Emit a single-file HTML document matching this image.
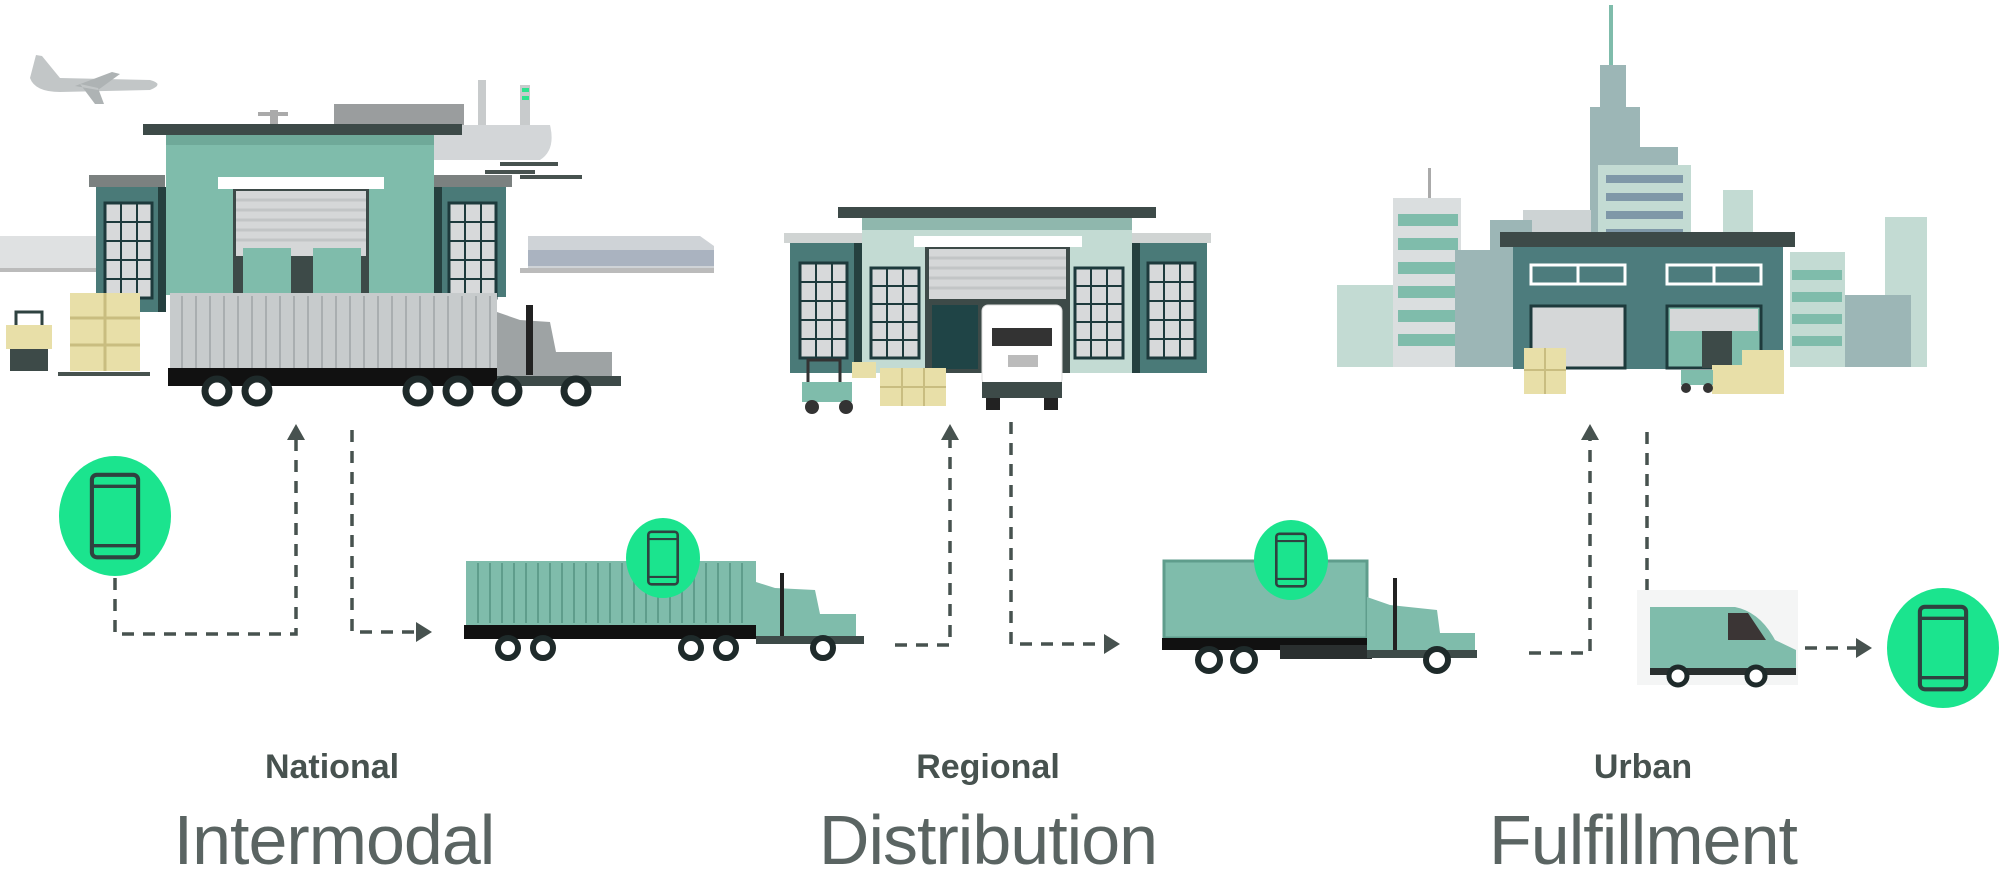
<!DOCTYPE html>
<html><head><meta charset="utf-8"><style>
html,body{margin:0;padding:0;background:#fff;}
body{width:2000px;height:870px;overflow:hidden;}
svg{display:block}
.b{font-family:"Liberation Sans",sans-serif;font-weight:bold;fill:#47524f;font-size:34px;text-anchor:middle}
.t{font-family:"Liberation Sans",sans-serif;fill:#5a6462;font-size:70px;text-anchor:middle;letter-spacing:-1px}
.d{stroke:#47524f;stroke-width:3.5;fill:none;stroke-dasharray:12 9}
</style></head><body>
<svg width="2000" height="870" viewBox="0 0 2000 870" xmlns="http://www.w3.org/2000/svg">
<defs>
<g id="phone"><rect x="-14" y="-25" width="28" height="50" rx="3" fill="none" stroke="#2f4240" stroke-width="2.5"/><line x1="-14" y1="-18" x2="14" y2="-18" stroke="#2f4240" stroke-width="2"/><line x1="-14" y1="18" x2="14" y2="18" stroke="#2f4240" stroke-width="2"/></g>
</defs>

<!-- plane -->
<path d="M30 78 L36 55 L42 56 L60 78 L150 80 Q165 84 150 90 L60 92 Q35 92 30 78Z" fill="#c2c6c7"/>
<path d="M75 86 L112 72 L120 74 L98 90Z M80 84 L95 104 L104 104 L98 88Z" fill="#aeb3b4"/>
<!-- ship -->
<rect x="334" y="104" width="130" height="22" fill="#9a9d9e"/>
<rect x="270" y="110" width="8" height="25" fill="#aaa"/><rect x="258" y="112" width="30" height="4" fill="#aaa"/>
<path d="M434 125 L550 125 Q556 150 540 160 L434 160Z" fill="#d3d6d8"/>
<rect x="478" y="80" width="8" height="45" fill="#c8cbcc"/><rect x="520" y="85" width="10" height="40" fill="#c8cbcc"/>
<rect x="522" y="88" width="7" height="4" fill="#2de38f"/><rect x="522" y="96" width="7" height="4" fill="#2de38f"/>
<rect x="500" y="162" width="58" height="4" fill="#47524f"/><rect x="485" y="170" width="50" height="4" fill="#47524f"/><rect x="520" y="175" width="62" height="4" fill="#47524f"/>
<!-- trains -->
<rect x="0" y="236" width="96" height="36" fill="#dfe1e2"/><rect x="0" y="268" width="96" height="4" fill="#bbb"/>
<path d="M528 236 L700 236 L714 246 L714 270 L528 270Z" fill="#cfd3d7"/><rect x="528" y="250" width="186" height="16" fill="#aab3c0"/>
<rect x="520" y="268" width="194" height="5" fill="#bbb"/>
<!-- wings -->
<rect x="89" y="175" width="76" height="12" fill="#7b8180"/><rect x="434" y="175" width="78" height="12" fill="#7b8180"/>
<rect x="96" y="187" width="70" height="125" fill="#4a7a78"/><rect x="434" y="187" width="72" height="110" fill="#4a7a78"/>
<rect x="158" y="187" width="8" height="125" fill="#25403f"/><rect x="434" y="187" width="8" height="110" fill="#25403f"/>
<g fill="#d7d9da" stroke="#1d3a3c" stroke-width="3">
<rect x="105" y="203" width="47" height="95"/><rect x="449" y="203" width="47" height="95"/>
<rect x="175" y="208" width="47" height="90"/><rect x="378" y="208" width="47" height="90"/>
</g>
<g stroke="#1d3a3c" stroke-width="2"><path d="M121 203V298M137 203V298M105 222H152M105 241H152M105 260H152M105 279H152"/><path d="M465 203V298M481 203V298M449 222H496M449 241H496M449 260H496M449 279H496"/><path d="M191 208V298M207 208V298M175 226H222M175 244H222M175 262H222M175 280H222"/><path d="M394 208V298M410 208V298M378 226H425M378 244H425M378 262H425M378 280H425"/></g>
<!-- main facade -->
<rect x="143" y="124" width="319" height="11" fill="#3d4a48"/>
<rect x="166" y="135" width="268" height="160" fill="#7fbcab"/><rect x="166" y="135" width="268" height="10" fill="#6fa999"/>
<rect x="218" y="177" width="166" height="12" fill="#fff"/>
<rect x="233" y="189" width="136" height="106" fill="#3d4a48"/>
<rect x="236" y="191" width="130" height="65" fill="#d5d7d8"/>
<g stroke="#c2c5c6" stroke-width="3"><path d="M236 200H366M236 210H366M236 220H366M236 230H366M236 240H366"/></g>
<rect x="243" y="248" width="48" height="48" fill="#7fbcab"/><rect x="313" y="248" width="48" height="48" fill="#7fbcab"/>
<!-- pallets & forklift -->
<rect x="70" y="293" width="70" height="78" fill="#e8dfa8"/><path d="M70 318H140M70 345H140M105 293V371" stroke="#c9bd80" stroke-width="3"/>
<rect x="58" y="372" width="92" height="4" fill="#47524f"/>
<rect x="6" y="325" width="46" height="24" fill="#e8dfa8"/><path d="M16 325V312H42V325" stroke="#2f4240" stroke-width="3" fill="none"/>
<rect x="10" y="349" width="38" height="22" fill="#3d4a48"/>
<!-- big truck 1 -->
<rect x="170" y="293" width="327" height="77" fill="#c7cbcc"/>
<g stroke="#a9aeb0" stroke-width="2"><path d="M182 296V368M196 296V368M210 296V368M224 296V368M238 296V368M252 296V368M266 296V368M280 296V368M294 296V368M308 296V368M322 296V368M336 296V368M350 296V368M364 296V368M378 296V368M392 296V368M406 296V368M420 296V368M434 296V368M448 296V368M462 296V368M476 296V368M490 296V368"/></g>
<rect x="168" y="368" width="332" height="18" fill="#111"/>
<path d="M497 312 L520 320 L550 322 L556 352 L612 352 L612 380 L497 380Z" fill="#9ea3a4"/>
<rect x="526" y="305" width="7" height="70" fill="#222"/>
<rect x="497" y="376" width="124" height="10" fill="#3d4a48"/>
<g fill="#fff" stroke="#1e2a2a" stroke-width="7"><circle cx="217" cy="391" r="12"/><circle cx="257" cy="391" r="12"/><circle cx="418" cy="391" r="12"/><circle cx="458" cy="391" r="12"/><circle cx="507" cy="391" r="12"/><circle cx="576" cy="391" r="12"/></g>

<ellipse cx="115" cy="516" rx="56" ry="60" fill="#1be48e"/><use href="#phone" transform="translate(115,516) scale(1.65)"/>
<path class="d" d="M115 578V634H296V438"/><path d="M287 440L296 424L305 440Z" fill="#47524f"/>
<path class="d" d="M352 430V632H418"/><path d="M416 622L432 632L416 642Z" fill="#47524f"/>

<!-- truck 2 -->
<rect x="466" y="561" width="290" height="64" fill="#7fbcab"/>
<g stroke="#5f9d8c" stroke-width="2"><path d="M478 563V623M490 563V623M502 563V623M514 563V623M526 563V623M538 563V623M550 563V623M562 563V623M574 563V623M586 563V623M598 563V623M610 563V623M622 563V623M634 563V623M646 563V623M658 563V623M670 563V623M682 563V623M694 563V623M706 563V623M718 563V623M730 563V623M742 563V623"/></g>
<rect x="464" y="625" width="294" height="14" fill="#111"/>
<path d="M756 582 L775 588 L815 590 L820 614 L856 614 L856 640 L756 640Z" fill="#7fbcab"/>
<rect x="780" y="573" width="4" height="66" fill="#222"/>
<rect x="756" y="636" width="108" height="8" fill="#3d4a48"/>
<g fill="#fff" stroke="#1e2a2a" stroke-width="6"><circle cx="508" cy="648" r="10"/><circle cx="543" cy="648" r="10"/><circle cx="691" cy="648" r="10"/><circle cx="726" cy="648" r="10"/><circle cx="823" cy="648" r="10"/></g>
<ellipse cx="663" cy="558" rx="37" ry="40" fill="#1be48e"/><use href="#phone" transform="translate(663,558) scale(1.05)"/>

<path class="d" d="M895 645H950V438"/><path d="M941 440L950 424L959 440Z" fill="#47524f"/>
<path class="d" d="M1011 422V644H1106"/><path d="M1104 634L1120 644L1104 654Z" fill="#47524f"/>

<!-- regional warehouse -->
<rect x="838" y="207" width="318" height="11" fill="#3d4a48"/>
<rect x="784" y="233" width="80" height="10" fill="#d0d4d3"/><rect x="1130" y="233" width="81" height="10" fill="#d0d4d3"/>
<rect x="790" y="243" width="72" height="130" fill="#4a7a78"/><rect x="1132" y="243" width="75" height="130" fill="#4a7a78"/>
<rect x="854" y="243" width="8" height="130" fill="#25403f"/><rect x="1132" y="243" width="8" height="130" fill="#25403f"/>
<rect x="862" y="218" width="270" height="155" fill="#c3dbd3"/><rect x="862" y="218" width="270" height="12" fill="#8fb7ad"/>
<rect x="914" y="236" width="168" height="11" fill="#fff"/>
<rect x="925" y="247" width="145" height="126" fill="#3d4a48"/>
<rect x="929" y="249" width="137" height="50" fill="#d5d7d8"/>
<g stroke="#c2c5c6" stroke-width="3"><path d="M929 258H1066M929 268H1066M929 278H1066M929 288H1066"/></g>
<rect x="932" y="305" width="46" height="64" fill="#1f4446"/>
<g fill="#d7d9da" stroke="#1d3a3c" stroke-width="3">
<rect x="800" y="263" width="47" height="95"/><rect x="1148" y="263" width="47" height="95"/>
<rect x="871" y="268" width="48" height="90"/><rect x="1075" y="268" width="48" height="90"/>
</g>
<g stroke="#1d3a3c" stroke-width="2"><path d="M816 263V358M832 263V358M800 282H847M800 301H847M800 320H847M800 339H847"/><path d="M1164 263V358M1180 263V358M1148 282H1195M1148 301H1195M1148 320H1195M1148 339H1195"/><path d="M887 268V358M903 268V358M871 286H919M871 304H919M871 322H919M871 340H919"/><path d="M1091 268V358M1107 268V358M1075 286H1123M1075 304H1123M1075 322H1123M1075 340H1123"/></g>
<rect x="982" y="305" width="80" height="80" rx="6" fill="#fff" stroke="#ddd"/>
<rect x="992" y="328" width="60" height="18" fill="#333"/>
<rect x="1008" y="355" width="30" height="12" fill="#bbb"/>
<rect x="982" y="382" width="80" height="16" fill="#3d4a48"/>
<rect x="986" y="398" width="14" height="12" fill="#222"/><rect x="1044" y="398" width="14" height="12" fill="#222"/>
<rect x="802" y="382" width="50" height="20" fill="#7fbcab"/><path d="M808 382V360H840V382" stroke="#333" stroke-width="3" fill="none"/>
<circle cx="812" cy="407" r="7" fill="#333"/><circle cx="846" cy="407" r="7" fill="#333"/>
<rect x="852" y="362" width="24" height="16" fill="#e8dfa8"/>
<rect x="880" y="368" width="66" height="38" fill="#e8dfa8"/><path d="M880 387H946M902 368V406M924 368V406" stroke="#c9bd80" stroke-width="2"/>

<!-- truck 3 -->
<rect x="1164" y="561" width="203" height="77" fill="#7fbcab" stroke="#5f9d8c" stroke-width="3"/>
<rect x="1162" y="638" width="210" height="12" fill="#111"/>
<rect x="1280" y="645" width="92" height="14" fill="#2a2f2f"/>
<path d="M1367 597 L1390 605 L1437 610 L1440 633 L1475 633 L1475 655 L1367 655Z" fill="#7fbcab"/>
<rect x="1393" y="578" width="4" height="75" fill="#222"/>
<rect x="1367" y="650" width="110" height="8" fill="#3d4a48"/>
<g fill="#fff" stroke="#1e2a2a" stroke-width="6"><circle cx="1209" cy="660" r="11"/><circle cx="1244" cy="660" r="11"/><circle cx="1437" cy="660" r="11"/></g>
<ellipse cx="1291" cy="560" rx="37" ry="40" fill="#1be48e"/><use href="#phone" transform="translate(1291,560) scale(1.05)"/>

<path class="d" d="M1529 653H1590V438"/><path d="M1581 440L1590 424L1599 440Z" fill="#47524f"/>
<path class="d" d="M1647 432V590"/>
<path class="d" d="M1805 648H1858"/><path d="M1856 638L1872 648L1856 658Z" fill="#47524f"/>

<!-- van -->
<rect x="1637" y="590" width="161" height="95" fill="#f4f5f5"/>
<path d="M1650 607 L1735 607 Q1760 612 1775 640 L1796 650 L1796 672 L1650 672Z" fill="#7fbcab"/>
<path d="M1728 613 L1748 613 L1766 640 L1728 640Z" fill="#3b3535"/>
<rect x="1650" y="668" width="146" height="7" fill="#2a2f2f"/>
<g fill="#fff" stroke="#1e2a2a" stroke-width="5"><circle cx="1678" cy="676" r="9"/><circle cx="1756" cy="676" r="9"/></g>
<ellipse cx="1943" cy="648" rx="56" ry="60" fill="#1be48e"/><use href="#phone" transform="translate(1943,648) scale(1.65)"/>

<!-- city -->
<rect x="1609" y="5" width="4" height="60" fill="#7fbcab"/>
<path d="M1600 65H1626V107H1640V147H1678V165H1603V367H1590V107H1600Z" fill="#9cb6b6"/>
<rect x="1598" y="165" width="93" height="202" fill="#c3dbd3"/>
<g fill="#7f98a8"><rect x="1606" y="175" width="77" height="8"/><rect x="1606" y="193" width="77" height="8"/><rect x="1606" y="211" width="77" height="8"/><rect x="1606" y="229" width="77" height="8"/><rect x="1606" y="247" width="77" height="8"/><rect x="1606" y="265" width="77" height="8"/><rect x="1606" y="283" width="77" height="8"/></g>
<rect x="1523" y="210" width="68" height="157" fill="#cdd3d4"/>
<rect x="1723" y="190" width="30" height="177" fill="#c3dbd3"/>
<rect x="1885" y="217" width="42" height="150" fill="#c3dbd3"/>
<rect x="1337" y="285" width="60" height="82" fill="#c3dbd3"/>
<rect x="1393" y="198" width="68" height="169" fill="#dadedf"/><rect x="1428" y="168" width="3" height="30" fill="#aaa"/>
<g fill="#7fbcab"><rect x="1398" y="214" width="60" height="12"/><rect x="1398" y="238" width="60" height="12"/><rect x="1398" y="262" width="60" height="12"/><rect x="1398" y="286" width="60" height="12"/><rect x="1398" y="310" width="60" height="12"/><rect x="1398" y="334" width="60" height="12"/></g>
<rect x="1455" y="250" width="40" height="117" fill="#9cb6b6"/>
<rect x="1490" y="220" width="42" height="147" fill="#9cb6b6"/>
<rect x="1790" y="252" width="55" height="115" fill="#c3dbd3"/>
<g fill="#7fbcab"><rect x="1792" y="270" width="50" height="10"/><rect x="1792" y="292" width="50" height="10"/><rect x="1792" y="314" width="50" height="10"/><rect x="1792" y="336" width="50" height="10"/></g>
<rect x="1845" y="295" width="66" height="72" fill="#9cb6b6"/>
<rect x="1500" y="232" width="295" height="15" fill="#3d4a48"/>
<rect x="1513" y="247" width="270" height="122" fill="#4d7c7d"/>
<g fill="none" stroke="#fff" stroke-width="3"><rect x="1531" y="265" width="94" height="19"/><rect x="1667" y="265" width="94" height="19"/><path d="M1578 265V284M1714 265V284"/></g>
<rect x="1531" y="306" width="94" height="62" fill="#d5d7d8" stroke="#1d3a3c" stroke-width="3"/>
<rect x="1667" y="306" width="94" height="62" fill="#7fbcab" stroke="#1d3a3c" stroke-width="3"/>
<rect x="1670" y="309" width="88" height="22" fill="#d5d7d8"/>
<rect x="1702" y="331" width="30" height="37" fill="#3d4a48"/>
<rect x="1524" y="348" width="42" height="46" fill="#e8dfa8"/><path d="M1524 370H1566M1545 348V394" stroke="#c9bd80" stroke-width="2"/>
<rect x="1742" y="350" width="42" height="44" fill="#e8dfa8"/><rect x="1712" y="365" width="32" height="29" fill="#e8dfa8"/>
<rect x="1681" y="370" width="32" height="15" fill="#7fbcab"/><circle cx="1686" cy="388" r="5" fill="#333"/><circle cx="1708" cy="388" r="5" fill="#333"/>

<!-- labels -->
<text class="b" x="332" y="778">National</text>
<text class="t" x="334" y="864">Intermodal</text>
<text class="b" x="988" y="778">Regional</text>
<text class="t" x="988" y="864">Distribution</text>
<text class="b" x="1643" y="778">Urban</text>
<text class="t" x="1643" y="864">Fulfillment</text>
</svg>
</body></html>
